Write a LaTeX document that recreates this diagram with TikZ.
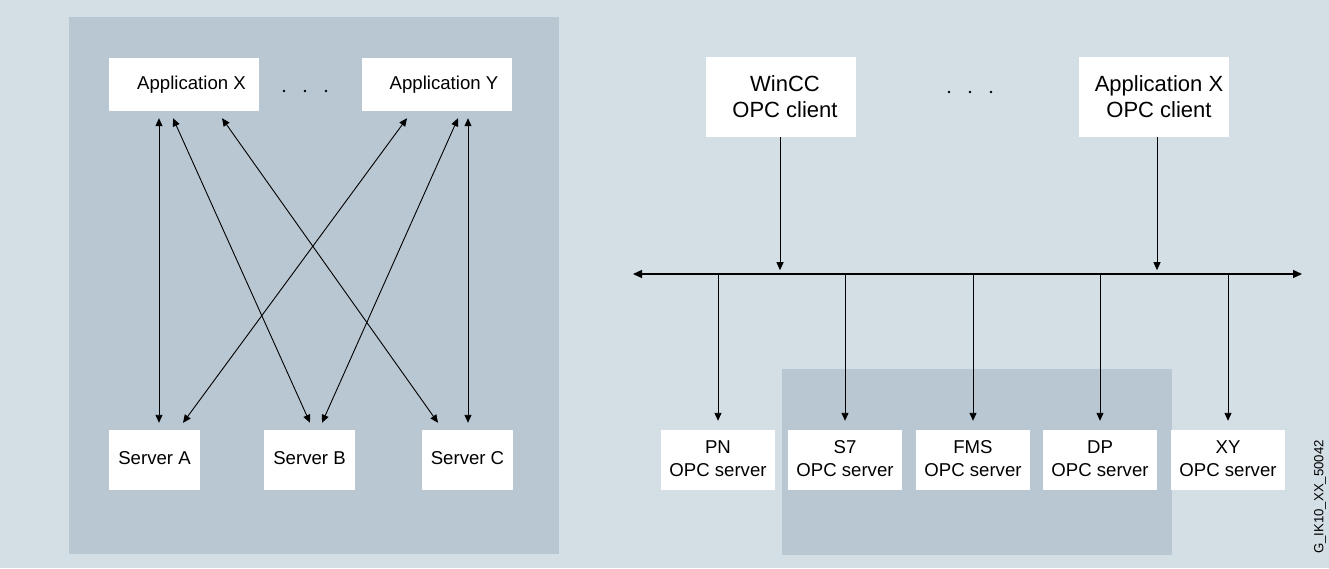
\documentclass[tikz,border=0pt]{standalone}
\usepackage{fontspec}
\setmainfont{Liberation Sans}
\usetikzlibrary{arrows.meta,calc}
\definecolor{bglight}{RGB}{211,222,229}
\definecolor{bgdark}{RGB}{185,199,210}
\newcommand{\twoline}[2]{\raisebox{3pt}{\begin{tabular}{@{}c@{}}#1\\#2\end{tabular}}}
\tikzset{
  wbox/.style 2 args={fill=white, draw=none, inner sep=0pt, minimum width=#1, minimum height=#2, align=center},
  arr/.style={line width=0.9pt, -{Triangle[length=8pt,width=7pt]}},
  darr/.style={line width=0.9pt, {Triangle[length=8pt,width=7pt]}-{Triangle[length=8pt,width=7pt]}},
  busline/.style={line width=1.3pt, {Triangle[length=9pt,width=8pt]}-{Triangle[length=9pt,width=8pt]}},
  txt/.style={font=\fontsize{18.6}{23}\selectfont},
  ctxt/.style={font=\fontsize{22}{26}\selectfont},
}
\begin{document}
\begin{tikzpicture}[x=1pt,y=-1pt]
\useasboundingbox (0,0) rectangle (1329,568);
\fill[bglight] (0,0) rectangle (1329,568);
% left panel
\fill[bgdark] (69,17) rectangle (559,554);
% right inner panel
\fill[bgdark] (782,369) rectangle (1172,555);

% left nodes
\node[wbox={150pt}{53pt}, txt] (ax) at (184,84.5) {\raisebox{4pt}{\hspace{15pt}Application X}};
\node[wbox={150pt}{53pt}, txt] (ay) at (437,84.5) {\raisebox{4pt}{\hspace{14pt}Application Y}};
\node[wbox={91pt}{60pt}, txt] (sa) at (154.5,460) {\raisebox{4pt}{Server A}};
\node[wbox={91pt}{60pt}, txt] (sb) at (309.5,460) {\raisebox{4pt}{Server B}};
\node[wbox={91pt}{60pt}, txt] (sc) at (467.5,460) {\raisebox{4pt}{Server C}};

\foreach \x in {284,305,326} \fill (\x,91) circle (1.3);

\draw[darr] ($(ax.south)+(-25,7)$) -- ($(sa.north)+(4.5,-7)$);
\draw[darr] ($(ax.south)+(-11,7)$) -- ($(sb.north)+(0.5,-7)$);
\draw[darr] ($(ax.south)+(38,7)$) -- ($(sc.north)+(-29.5,-7)$);
\draw[darr] ($(ay.south)+(-30,7)$) -- ($(sa.north)+(28.5,-7)$);
\draw[darr] ($(ay.south)+(21,7)$) -- ($(sb.north)+(12.5,-7)$);
\draw[darr] ($(ay.south)+(31,7)$) -- ($(sc.north)+(0.5,-7)$);

% right nodes
\node[wbox={150pt}{80pt}, ctxt] (wc) at (781,97) {\hspace{8pt}WinCC\\\hspace{8pt}OPC client};
\node[wbox={150pt}{80pt}, ctxt] (xc) at (1154,97) {\hspace{10pt}Application X\\\hspace{10pt}OPC client};
\foreach \x in {949,970,991} \fill (\x,92) circle (1.3);

\node[wbox={114pt}{60pt}, txt] (pn) at (718,460) {\twoline{PN}{OPC server}};
\node[wbox={114pt}{60pt}, txt] (s7) at (845,460) {\twoline{S7}{OPC server}};
\node[wbox={114pt}{60pt}, txt] (fms) at (973,460) {\twoline{FMS}{OPC server}};
\node[wbox={114pt}{60pt}, txt] (dp) at (1100,460) {\twoline{DP}{OPC server}};
\node[wbox={114pt}{60pt}, txt] (xy) at (1228,460) {\twoline{XY}{OPC server}};

\coordinate (busL) at (633,274);
\coordinate (busR) at (1302,274);
\draw[busline] (busL) -- (busR);

\draw[arr] ($(wc.south)+(-1,0)$) -- ($(wc.south)+(-1,133)$);
\draw[arr] ($(xc.south)+(3,0)$) -- ($(xc.south)+(3,133)$);

\foreach \n in {pn,s7,fms,dp,xy}
  \draw[arr] (\n.north |- busL) -- ($(\n.north)+(0,-9)$);

\node[rotate=90, font=\fontsize{13.2}{15}\selectfont] (code) at (1320,497) {G\_IK10\_XX\_50042};
\end{tikzpicture}
\end{document}
